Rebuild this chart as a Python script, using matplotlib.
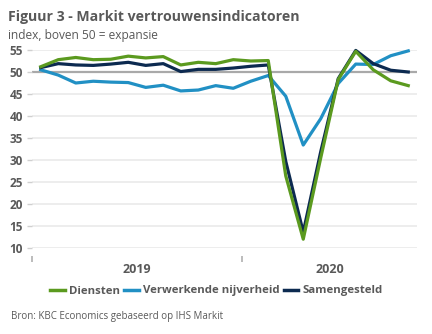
import numpy as np
import matplotlib.pyplot as plt

# maandelijkse PMI-waarden, januari 2019 t/m oktober 2020
maanden = np.arange(22)
diensten = [51.2, 52.8, 53.3, 52.8, 52.9, 53.6, 53.2, 53.5, 51.6, 52.2, 51.9, 52.8,
            52.5, 52.6, 26.4, 12.0, 30.5, 48.3, 54.7, 50.5, 48.0, 46.9]
verwerkend = [50.5, 49.3, 47.5, 47.9, 47.7, 47.6, 46.5, 47.0, 45.7, 45.9, 46.9, 46.3,
              47.9, 49.2, 44.5, 33.4, 39.4, 47.4, 51.8, 51.7, 53.7, 54.8]
samengesteld = [51.0, 51.9, 51.6, 51.5, 51.8, 52.2, 51.5, 51.9, 50.1, 50.6, 50.6, 50.9,
                51.3, 51.6, 29.7, 13.6, 31.9, 48.5, 54.9, 51.9, 50.4, 50.0]
jaren = ['2019', '2020']

groen = '#5b9a1f'
blauw = '#2190c4'
navy = '#0c2a50'
tekst = '#595959'

plt.rcParams['font.family'] = ['Open Sans', 'DejaVu Sans']

fig = plt.figure(figsize=(4.32, 3.34), dpi=100)
ax = fig.add_axes([32 / 432, 1 - 248 / 334, 385 / 432, 198 / 334])

# rasterlijnen, met een donkerdere lijn op 50
for y in range(10, 56, 5):
    if y == 50:
        ax.axhline(y, color='#a9a9a9', lw=1.6, zorder=1)
    else:
        ax.axhline(y, color='#ececec', lw=1.3, zorder=0)

ax.plot(maanden, samengesteld, color=navy, lw=2.3, zorder=3, label='Samengesteld', clip_on=False)
ax.plot(maanden, verwerkend, color=blauw, lw=2.3, zorder=2, label='Verwerkende nijverheid', clip_on=False)
ax.plot(maanden, diensten, color=groen, lw=2.3, zorder=4, label='Diensten', clip_on=False)

ax.set_xlim(-0.5, 21.5)
ax.set_ylim(10, 55)
ax.set_yticks(range(10, 56, 5))
ax.tick_params(axis='y', length=3.5, width=1, color='#d0d0d0', pad=3,
               labelsize=8.5, labelcolor=tekst)

# jaargrenzen als kleine streepjes, jaartallen in het midden
ax.set_xticks([-0.5, 11.5], minor=True)
ax.set_xticks([5.5, 16.5])
ax.set_xticklabels(jaren)
ax.tick_params(axis='x', which='minor', length=4, width=1.2, color='#b0b0b0')
ax.tick_params(axis='x', which='major', length=0, pad=5, labelsize=9, labelcolor=tekst)
ax.spines['bottom'].set_position(('outward', 6))
for s in ax.spines.values():
    s.set_visible(False)
for lbl in ax.get_yticklabels() + ax.get_xticklabels():
    lbl.set_fontweight('bold')

handles, labels = ax.get_legend_handles_labels()
order = [2, 1, 0]
leg = fig.legend([handles[i] for i in order], [labels[i] for i in order],
                 loc='center', bbox_to_anchor=(0.501, 1 - 291 / 334), ncol=3,
                 frameon=False, handlelength=1.3, handletextpad=0.35, columnspacing=0.35,
                 prop={'weight': 'bold', 'size': 8.2})
for t in leg.get_texts():
    t.set_color(tekst)
for l in leg.get_lines():
    l.set_linewidth(2.5)

fig.text(8 / 432, 1 - 17 / 334, 'Figuur 3 - Markit vertrouwensindicatoren', fontsize=10.2,
         fontweight='bold', color=tekst, va='center')
fig.text(8 / 432, 1 - 35 / 334, 'index, boven 50 = expansie', fontsize=8.6,
         color=tekst, va='center')
fig.text(11 / 432, 1 - 317 / 334, 'Bron: KBC Economics gebaseerd op IHS Markit', fontsize=7,
         color=tekst, va='center')

fig.savefig('out.png', dpi=100)
